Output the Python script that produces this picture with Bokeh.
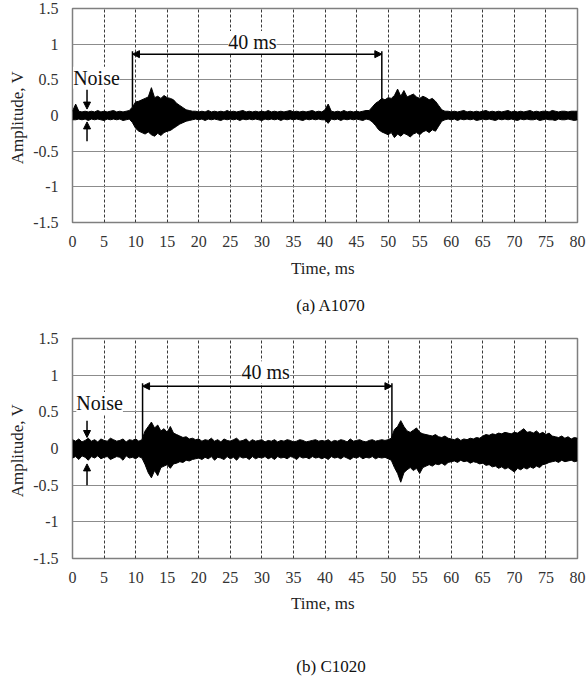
import numpy as np
from bokeh.plotting import figure
from bokeh.layouts import column
from bokeh.models import FixedTicker, Label, Arrow, NormalHead
from bokeh.core.properties import value
from bokeh.embed import file_html
from bokeh.resources import INLINE

FONT = "Liberation Serif"

# sample grid (ms) at which the signal envelope was read
time_ms = np.arange(0, 80.5, 0.5)

# (a) A1070 envelope, V
a_upper = [
    0.06, 0.16, 0.06, 0.05, 0.06, 0.05, 0.06, 0.05, 0.07, 0.05,
    0.06, 0.05, 0.06, 0.07, 0.05, 0.06, 0.05, 0.06, 0.07, 0.12,
    0.19, 0.20, 0.22, 0.24, 0.26, 0.39, 0.25, 0.27, 0.24, 0.28,
    0.25, 0.24, 0.22, 0.17, 0.14, 0.11, 0.08, 0.07, 0.06, 0.06,
    0.05, 0.06, 0.05, 0.07, 0.05, 0.06, 0.05, 0.06, 0.05, 0.07,
    0.05, 0.06, 0.05, 0.06, 0.07, 0.05, 0.06, 0.05, 0.06, 0.05,
    0.06, 0.05, 0.07, 0.05, 0.06, 0.05, 0.06, 0.05, 0.06, 0.07,
    0.05, 0.06, 0.05, 0.06, 0.05, 0.06, 0.07, 0.05, 0.06, 0.05,
    0.08, 0.16, 0.06, 0.05, 0.06, 0.05, 0.07, 0.05, 0.06, 0.05,
    0.06, 0.05, 0.06, 0.07, 0.07, 0.12, 0.17, 0.20, 0.24, 0.22,
    0.25, 0.24, 0.28, 0.37, 0.27, 0.35, 0.26, 0.28, 0.30, 0.26,
    0.24, 0.27, 0.25, 0.22, 0.24, 0.20, 0.14, 0.08, 0.06, 0.06,
    0.05, 0.06, 0.05, 0.06, 0.07, 0.05, 0.06, 0.05, 0.06, 0.05,
    0.06, 0.07, 0.05, 0.06, 0.05, 0.06, 0.05, 0.06, 0.07, 0.05,
    0.06, 0.05, 0.06, 0.05, 0.06, 0.07, 0.05, 0.06, 0.05, 0.06,
    0.06, 0.05, 0.07, 0.06, 0.05, 0.06, 0.06, 0.05, 0.06, 0.06, 0.06,
]
a_lower = [
    -0.06, -0.06, -0.05, -0.06, -0.05, -0.07, -0.05, -0.06, -0.05, -0.06,
    -0.07, -0.05, -0.06, -0.05, -0.06, -0.05, -0.07, -0.06, -0.05, -0.10,
    -0.18, -0.22, -0.24, -0.26, -0.23, -0.27, -0.29, -0.25, -0.28, -0.24,
    -0.22, -0.21, -0.18, -0.15, -0.12, -0.10, -0.08, -0.07, -0.06, -0.05,
    -0.06, -0.05, -0.07, -0.05, -0.06, -0.05, -0.06, -0.07, -0.05, -0.06,
    -0.05, -0.06, -0.05, -0.07, -0.05, -0.06, -0.05, -0.06, -0.05, -0.06,
    -0.07, -0.05, -0.06, -0.05, -0.06, -0.05, -0.07, -0.05, -0.06, -0.05,
    -0.06, -0.05, -0.06, -0.07, -0.05, -0.06, -0.05, -0.06, -0.05, -0.06,
    -0.06, -0.11, -0.05, -0.06, -0.05, -0.07, -0.05, -0.06, -0.05, -0.06,
    -0.05, -0.06, -0.07, -0.05, -0.06, -0.09, -0.14, -0.20, -0.23, -0.25,
    -0.27, -0.24, -0.31, -0.26, -0.29, -0.25, -0.27, -0.30, -0.26, -0.24,
    -0.27, -0.23, -0.21, -0.24, -0.20, -0.22, -0.15, -0.08, -0.06, -0.05,
    -0.06, -0.05, -0.07, -0.05, -0.06, -0.05, -0.06, -0.05, -0.07, -0.06,
    -0.05, -0.06, -0.05, -0.06, -0.07, -0.05, -0.06, -0.05, -0.06, -0.05,
    -0.06, -0.07, -0.05, -0.06, -0.05, -0.06, -0.06, -0.05, -0.07, -0.06,
    -0.05, -0.06, -0.06, -0.07, -0.05, -0.06, -0.06, -0.05, -0.06, -0.07, -0.06,
]

# (b) C1020 envelope, V
c_upper = [
    0.12, 0.10, 0.13, 0.09, 0.11, 0.14, 0.10, 0.12, 0.09, 0.13,
    0.11, 0.10, 0.14, 0.12, 0.10, 0.11, 0.13, 0.09, 0.12, 0.11,
    0.13, 0.10, 0.12, 0.24, 0.30, 0.36, 0.28, 0.32, 0.24, 0.27,
    0.22, 0.30, 0.21, 0.19, 0.17, 0.15, 0.16, 0.13, 0.14, 0.12,
    0.13, 0.10, 0.12, 0.11, 0.14, 0.10, 0.12, 0.09, 0.13, 0.11,
    0.10, 0.12, 0.14, 0.10, 0.11, 0.13, 0.09, 0.12, 0.10, 0.11,
    0.12, 0.09, 0.11, 0.10, 0.12, 0.09, 0.11, 0.10, 0.12, 0.11,
    0.09, 0.10, 0.12, 0.11, 0.09, 0.10, 0.11, 0.12, 0.10, 0.11,
    0.10, 0.12, 0.09, 0.11, 0.10, 0.12, 0.11, 0.09, 0.13, 0.10,
    0.11, 0.12, 0.10, 0.09, 0.11, 0.12, 0.10, 0.11, 0.12, 0.11,
    0.12, 0.14, 0.26, 0.30, 0.38, 0.30, 0.24, 0.22, 0.25, 0.28,
    0.22, 0.20, 0.19, 0.18, 0.17, 0.19, 0.16, 0.15, 0.17, 0.14,
    0.13, 0.12, 0.14, 0.11, 0.13, 0.12, 0.14, 0.13, 0.15, 0.14,
    0.17, 0.19, 0.18, 0.20, 0.19, 0.21, 0.20, 0.22, 0.21, 0.20,
    0.22, 0.21, 0.24, 0.27, 0.22, 0.23, 0.21, 0.24, 0.20, 0.22,
    0.19, 0.21, 0.17, 0.16, 0.15, 0.17, 0.14, 0.16, 0.13, 0.15, 0.14,
]
c_lower = [
    -0.13, -0.11, -0.15, -0.10, -0.12, -0.16, -0.11, -0.13, -0.10, -0.14,
    -0.12, -0.11, -0.15, -0.13, -0.11, -0.12, -0.16, -0.10, -0.13, -0.12,
    -0.14, -0.11, -0.13, -0.22, -0.33, -0.40, -0.30, -0.37, -0.26, -0.24,
    -0.22, -0.27, -0.21, -0.20, -0.18, -0.19, -0.16, -0.17, -0.15, -0.14,
    -0.13, -0.15, -0.12, -0.14, -0.11, -0.16, -0.12, -0.13, -0.15, -0.11,
    -0.14, -0.12, -0.16, -0.11, -0.13, -0.12, -0.15, -0.11, -0.14, -0.12,
    -0.13, -0.11, -0.14, -0.12, -0.15, -0.11, -0.13, -0.12, -0.14, -0.11,
    -0.12, -0.15, -0.11, -0.13, -0.12, -0.14, -0.11, -0.13, -0.12, -0.14,
    -0.12, -0.15, -0.11, -0.13, -0.12, -0.14, -0.11, -0.13, -0.15, -0.12,
    -0.13, -0.11, -0.14, -0.12, -0.13, -0.11, -0.14, -0.12, -0.13, -0.12,
    -0.14, -0.16, -0.26, -0.34, -0.46, -0.33, -0.29, -0.26, -0.30, -0.27,
    -0.34, -0.26, -0.24, -0.22, -0.24, -0.21, -0.22, -0.20, -0.23, -0.19,
    -0.18, -0.17, -0.19, -0.16, -0.18, -0.17, -0.20, -0.18, -0.19, -0.21,
    -0.20, -0.23, -0.22, -0.25, -0.24, -0.27, -0.25, -0.28, -0.26, -0.29,
    -0.32, -0.27, -0.29, -0.26, -0.28, -0.25, -0.27, -0.24, -0.26, -0.22,
    -0.21, -0.19, -0.18, -0.17, -0.19, -0.16, -0.18, -0.17, -0.16, -0.18, -0.17,
]

x_ticks = list(range(0, 85, 5))
y_ticks = [-1.5, -1, -0.5, 0, 0.5, 1, 1.5]
y_tick_labels = ["-1.5", "-1", "-0.5", "0", "0.5", "1", "1.5"]
captions = ["(a) A1070", "(b) C1020"]

# annotation anchors (ms / V)
a_bracket_x = [9.5, 49.0]
a_bracket_base = [0.12, 0.23]
c_bracket_x = [11.1, 50.6]
c_bracket_base = [0.13, 0.15]


def make_panel(upper, lower, br_x, br_base, br_top, br_y,
               noise_pos, noise_arrows, label40_pos, height, top_b, bottom_b,
               axis_std):
    p = figure(width=588, height=height, output_backend="svg",
               toolbar_location=None, x_range=(0, 80), y_range=(-1.5, 1.5),
               min_border_left=72, min_border_right=11,
               min_border_top=top_b, min_border_bottom=bottom_b)
    p.background_fill_color = "white"
    p.border_fill_color = "white"
    p.outline_line_color = "#7f7f7f"
    p.outline_line_width = 1.5

    for ax in (p.xaxis[0], p.yaxis[0]):
        ax.axis_line_color = None
        ax.major_tick_line_color = None
        ax.minor_tick_line_color = None
        ax.major_label_text_font = FONT
        ax.major_label_text_font_size = "16px"
        ax.major_label_text_color = "#333333"
        ax.axis_label_text_font = FONT
        ax.axis_label_text_font_size = "17px"
        ax.axis_label_text_font_style = "normal"
        ax.axis_label_text_color = "#222222"
        ax.major_tick_out = 0
        ax.major_tick_in = 0

    p.xaxis.ticker = FixedTicker(ticks=x_ticks)
    p.xaxis.axis_label = "Time,  ms"
    p.xaxis.major_label_standoff = 13
    p.xaxis.axis_label_standoff = axis_std

    p.yaxis.ticker = FixedTicker(ticks=y_ticks)
    p.yaxis.major_label_overrides = {t: l for t, l in zip(y_ticks, y_tick_labels)}
    p.yaxis.axis_label = "Amplitude,  V"
    p.yaxis.major_label_standoff = 14
    p.yaxis.axis_label_standoff = 3

    p.xgrid.ticker = FixedTicker(ticks=x_ticks)
    p.xgrid.grid_line_color = "#3a3a3a"
    p.xgrid.grid_line_dash = "3 2"
    p.xgrid.grid_line_width = 1
    p.ygrid.ticker = FixedTicker(ticks=y_ticks)
    p.ygrid.grid_line_color = "#8c8c8c"
    p.ygrid.grid_line_width = 1.2

    p.varea(x=time_ms, y1=lower, y2=upper, fill_color="black")
    p.line(x=time_ms, y=upper, line_color="black", line_width=1)
    p.line(x=time_ms, y=lower, line_color="black", line_width=1)

    # 40 ms bracket
    p.segment(x0=br_x, y0=br_base, x1=br_x, y1=[br_top, br_top],
              line_color="black", line_width=1.5)
    p.add_layout(Arrow(start=NormalHead(size=7, fill_color="black", line_color="black"),
                       end=NormalHead(size=7, fill_color="black", line_color="black"),
                       x_start=br_x[0], y_start=br_y, x_end=br_x[1], y_end=br_y,
                       line_color="black", line_width=1.5))
    p.add_layout(Label(x=label40_pos[0], y=label40_pos[1], text="40 ms",
                       text_font=FONT, text_font_size="20px", text_align="center",
                       text_baseline="middle", background_fill_color="white",
                       text_color="#111111"))

    # noise marker
    p.add_layout(Label(x=noise_pos[0], y=noise_pos[1], text="Noise",
                       text_font=FONT, text_font_size="20px", text_align="left",
                       text_baseline="middle", background_fill_color="white",
                       text_color="#111111"))
    nx, d0, d1, u0, u1 = noise_arrows
    p.add_layout(Arrow(end=NormalHead(size=7, fill_color="black", line_color="black"),
                       x_start=nx, y_start=d0, x_end=nx, y_end=d1,
                       line_color="black", line_width=1.5))
    p.add_layout(Arrow(end=NormalHead(size=7, fill_color="black", line_color="black"),
                       x_start=nx, y_start=u0, x_end=nx, y_end=u1,
                       line_color="black", line_width=1.5))
    return p


def make_caption(text, height):
    c = figure(width=588, height=height, output_backend="svg",
               toolbar_location=None, x_range=(0, 588), y_range=(0, height),
               x_axis_type=None, y_axis_type=None, min_border=0,
               outline_line_color=None)
    c.grid.visible = False
    c.text(x=[301], y=[height / 2], text=[text], text_font=value(FONT),
           text_font_size="17px", text_align="center", text_baseline="middle",
           text_color="#111111")
    return c


p1 = make_panel(a_upper, a_lower, a_bracket_x, a_bracket_base, 0.9, 0.86,
                (0.1, 0.53), (2.3, 0.36, 0.09, -0.36, -0.09), (28.5, 1.03),
                290, 8, 68, 9)
cap1 = make_caption(captions[0], 30)
p2 = make_panel(c_upper, c_lower, c_bracket_x, c_bracket_base, 0.89, 0.85,
                (0.6, 0.62), (2.3, 0.38, 0.15, -0.5, -0.21), (30.6, 1.04),
                330, 18, 92, 8)
cap2 = make_caption(captions[1], 31)

layout = column(p1, cap1, p2, cap2, spacing=0)
open("out.html", "w").write(file_html(layout, INLINE))
